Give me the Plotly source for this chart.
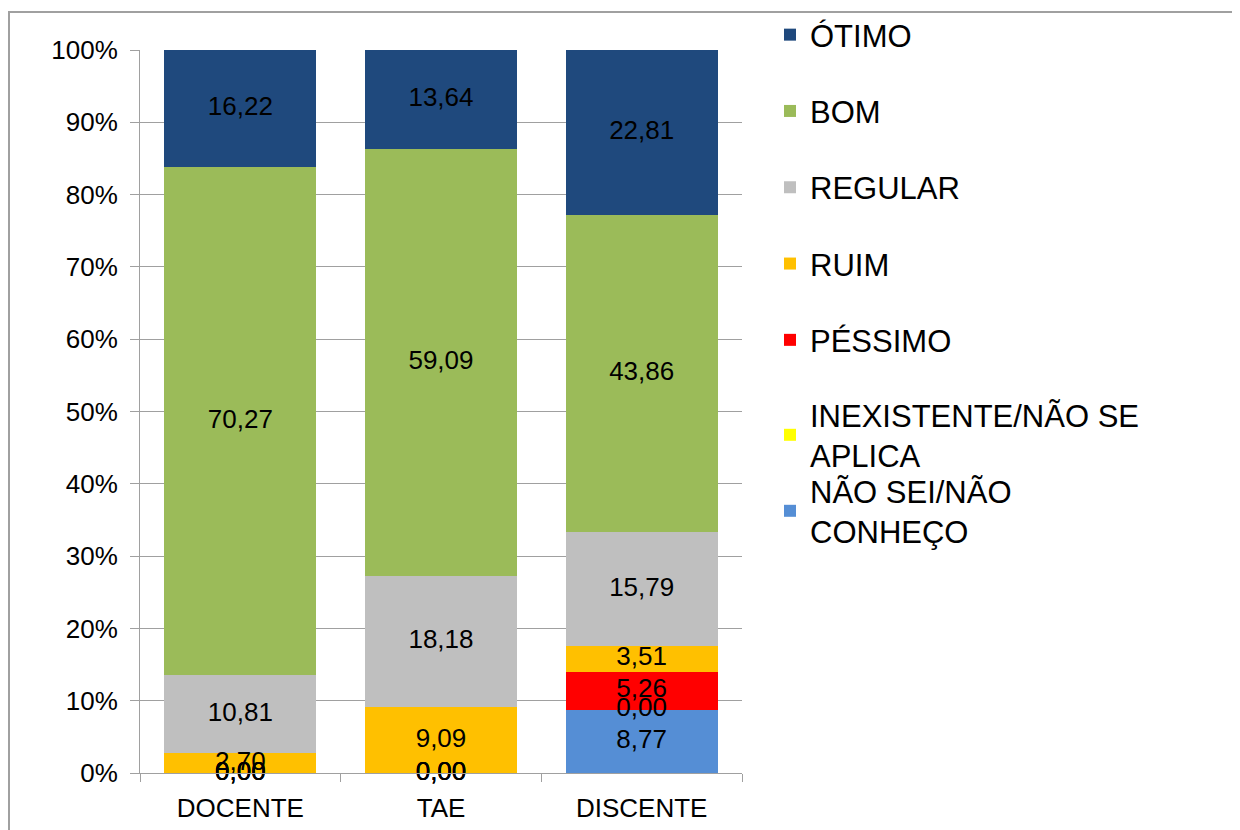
import plotly.graph_objects as go

# categories and series (values in %)
categories = ['DOCENTE', 'TAE', 'DISCENTE']
series_names = ['NÃO SEI/NÃO<br>CONHEÇO', 'INEXISTENTE/NÃO SE<br>APLICA', 'PÉSSIMO', 'RUIM', 'REGULAR', 'BOM', 'ÓTIMO']
nao_sei = [0.00, 0.00, 8.77]
inexistente = [0.00, 0.00, 0.00]
pessimo = [0.00, 0.00, 5.26]
ruim = [2.70, 9.09, 3.51]
regular = [10.81, 18.18, 15.79]
bom = [70.27, 59.09, 43.86]
otimo = [16.22, 13.64, 22.81]
tick_vals = [0, 10, 20, 30, 40, 50, 60, 70, 80, 90, 100]
tick_text = ['0%', '10%', '20%', '30%', '40%', '50%', '60%', '70%', '80%', '90%', '100%']

colors = ['#558ED5', '#FFFF00', '#FF0000', '#FFC000', '#BFBFBF', '#9BBB59', '#1F497D']
all_values = [nao_sei, inexistente, pessimo, ruim, regular, bom, otimo]
legend_ref = ['legend3', 'legend2', 'legend', 'legend', 'legend', 'legend', 'legend']

FONT = 'Liberation Sans, Arial, sans-serif'

fig = go.Figure()
for i, (name, vals, col, lg) in enumerate(zip(series_names, all_values, colors, legend_ref)):
    fig.add_trace(go.Bar(x=categories, y=vals, name=name, marker_color=col,
                         marker_line_width=0, legendgroup=name, legend=lg,
                         legendrank=100 - i, hoverinfo='skip'))

# data labels at the middle of each segment (zeros included, like the original)
base = [0.0, 0.0, 0.0]
for vals in all_values:
    mids = [b + v / 2 for b, v in zip(base, vals)]
    labels = [f'{v:.2f}'.replace('.', ',') for v in vals]
    fig.add_trace(go.Scatter(x=categories, y=mids, mode='text', text=labels,
                             textfont=dict(size=26, color='black', family=FONT),
                             showlegend=False, hoverinfo='skip', cliponaxis=False))
    base = [b + v for b, v in zip(base, vals)]

# outer frame of the chart area (page has an 8px body margin)
fig.add_shape(type='rect', xref='paper', yref='paper',
              x0=(1 - 132) / 602, x1=(1300 - 132) / 602,
              y0=-0.2, y1=1 + (42 - 4) / 723,
              line=dict(color='#A0A0A0', width=2), fillcolor='rgba(0,0,0,0)', layer='below')

legend_style = dict(xref='container', yref='container', xanchor='left', yanchor='top',
                    traceorder='grouped', bgcolor='rgba(0,0,0,0)',
                    font=dict(size=31, family=FONT))
fig.update_layout(
    width=1240, height=830,
    barmode='stack', bargap=0.243,
    plot_bgcolor='white', paper_bgcolor='white',
    margin=dict(l=132, r=506, t=42, b=65),
    font=dict(family=FONT, size=26, color='black'),
    legend=dict(x=762 / 1240, y=1 + 4 / 830, tracegroupgap=33, **legend_style),
    legend2=dict(x=762 / 1240, y=1 - 380 / 830, tracegroupgap=0, **legend_style),
    legend3=dict(x=762 / 1240, y=1 - 456 / 830, tracegroupgap=0, **legend_style),
)
fig.update_xaxes(showline=True, linecolor='#A0A0A0', linewidth=1,
                 ticks='outside', tickson='boundaries', ticklen=8, tickcolor='#A0A0A0',
                 ticklabelstandoff=12,
                 tickfont=dict(size=26, family=FONT), showgrid=False)
fig.update_yaxes(range=[0, 100], tickvals=tick_vals, ticktext=tick_text,
                 showline=True, linecolor='#A0A0A0', linewidth=1,
                 ticks='outside', ticklen=9, tickcolor='#A0A0A0',
                 ticklabelstandoff=7,
                 showgrid=True, gridcolor='#A0A0A0', gridwidth=1, zeroline=False,
                 tickfont=dict(size=26, family=FONT))

fig.write_html('out.html')
